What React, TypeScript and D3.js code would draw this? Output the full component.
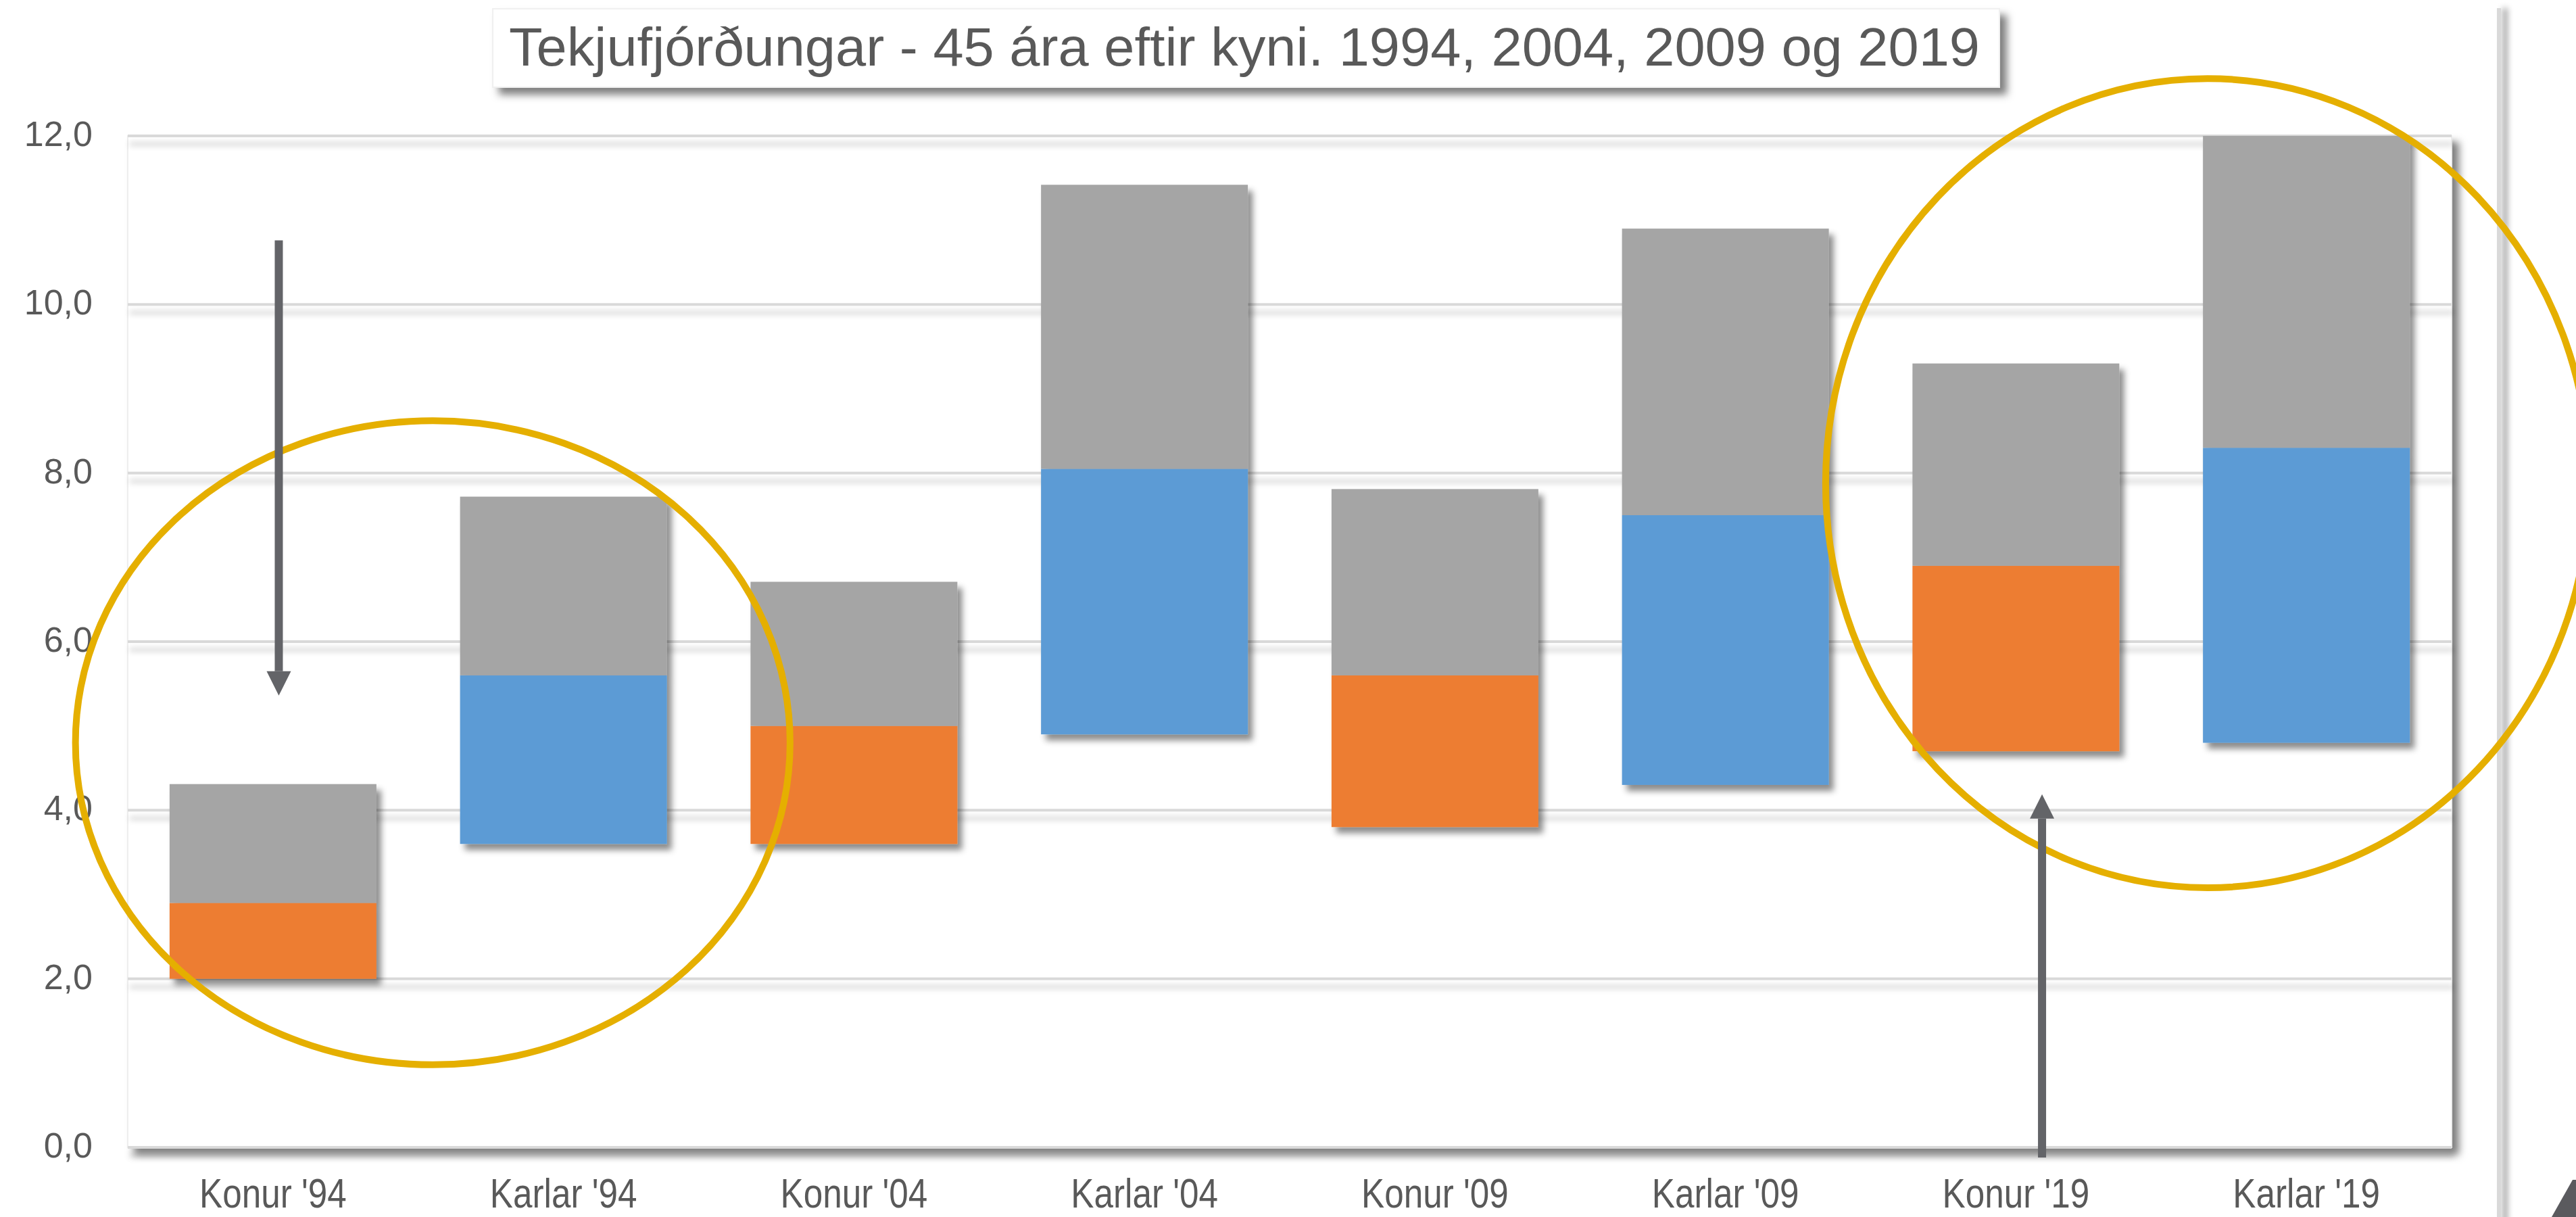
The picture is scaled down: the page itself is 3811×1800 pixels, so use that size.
import React from "react";
import * as d3 from "d3";

// Tekjufjórðungar: 1. fjórðungur (q1), miðgildi (median), 3. fjórðungur (q3)
const categories = ["Konur '94", "Karlar '94", "Konur '04", "Karlar '04", "Konur '09", "Karlar '09", "Konur '19", "Karlar '19"];
const q1 = [2.0, 3.6, 3.6, 4.9, 3.8, 4.3, 4.7, 4.8];
const median = [2.9, 5.6, 5.0, 8.05, 5.6, 7.5, 6.9, 8.3];
const q3 = [4.31, 7.72, 6.71, 11.42, 7.81, 10.9, 9.3, 12.0];
const yTicks = [0, 2, 4, 6, 8, 10, 12];
const title = "Tekjufjórðungar - 45 ára eftir kyni. 1994, 2004, 2009 og 2019";

// annotations, in category-index / value units
const ellipses = [
  { ci: 0.55, cv: 4.8, ri: 1.23, rv: 3.82 },
  { ci: 6.66, cv: 7.88, ri: 1.315, rv: 4.8 },
];
const arrows = [
  { ci: 0.02, from: 10.76, to: 5.36 },
  { ci: 6.09, from: -0.12, to: 4.19 },
];

const W = 3811;
const H = 1800;
const plot = { left: 189, right: 3627, top: 201, bottom: 1697 };

const ORANGE = "#ED7D31";
const BLUE = "#5B9BD5";
const GRAY = "#A5A5A5";
const TEXT = "#595959";
const GOLD = "#E5AF00";
const ARROW = "#636468";
const FONT = "'Liberation Sans', Arial, sans-serif";

const isKonur = (c: string) => c.startsWith("Konur");
const fmt = (v: number) => v.toFixed(1).replace(".", ",");

export default function App() {
  const x = d3
    .scaleBand<string>()
    .domain(categories)
    .range([plot.left, plot.right])
    .paddingInner(0.288)
    .paddingOuter(0.144);
  const y = d3.scaleLinear().domain([0, 12]).range([plot.bottom, plot.top]);
  const idx = d3
    .scaleLinear()
    .domain([0, 1])
    .range([x(categories[0])! + x.bandwidth() / 2, x(categories[1])! + x.bandwidth() / 2]);
  const step = x.step();

  return (
    <svg
      width={W}
      height={H}
      style={{ position: "absolute", left: 0, top: 0, background: "#fff" }}
    >
      <defs>
        <filter id="barShadow" filterUnits="userSpaceOnUse" x={0} y={0} width={W} height={H}>
          <feDropShadow dx={7} dy={9} stdDeviation={5} floodColor="#000" floodOpacity={0.45} />
        </filter>
        <filter id="gridShadow" filterUnits="userSpaceOnUse" x={0} y={0} width={W} height={H}>
          <feDropShadow dx={3} dy={12} stdDeviation={4} floodColor="#000" floodOpacity={0.22} />
        </filter>
        <filter id="boxShadow" filterUnits="userSpaceOnUse" x={0} y={0} width={W} height={H}>
          <feDropShadow dx={10} dy={10} stdDeviation={6} floodColor="#000" floodOpacity={0.5} />
        </filter>
        <filter id="edgeShadow" filterUnits="userSpaceOnUse" x={0} y={0} width={W} height={H}>
          <feDropShadow dx={9} dy={0} stdDeviation={5} floodColor="#000" floodOpacity={0.45} />
        </filter>
      </defs>

      {/* right chart edge */}
      <rect x={3694} y={12} width={6} height={H} fill="#d9d9d9" filter="url(#edgeShadow)" />
      <polygon points="3806,1745 3811,1745 3811,1800 3775,1800" fill="#5a5a5e" />

      {/* plot area */}
      <rect
        x={plot.left}
        y={plot.top}
        width={plot.right - plot.left}
        height={plot.bottom - plot.top}
        fill="#fff"
        stroke="#eeeeee"
        strokeWidth={2}
        filter="url(#boxShadow)"
      />

      {/* gridlines */}
      <g filter="url(#gridShadow)">
        {yTicks.map((t) => (
          <rect key={t} x={plot.left} y={y(t) - 2} width={plot.right - plot.left} height={4} fill="#d9d9d9" />
        ))}
      </g>

      {/* y tick labels */}
      {yTicks.map((t) => (
        <text
          key={t}
          x={137}
          y={y(t) - 3}
          textAnchor="end"
          dominantBaseline="central"
          fontFamily={FONT}
          fontSize={52}
          fill={TEXT}
        >
          {fmt(t)}
        </text>
      ))}

      {/* stacked floating bars */}
      {categories.map((c, i) => {
        const x0 = x(c)!;
        return (
          <g key={c} filter="url(#barShadow)">
            <rect x={x0} y={y(median[i])} width={x.bandwidth()} height={y(q1[i]) - y(median[i])} fill={isKonur(c) ? ORANGE : BLUE} />
            <rect x={x0} y={y(q3[i])} width={x.bandwidth()} height={y(median[i]) - y(q3[i])} fill={GRAY} />
          </g>
        );
      })}

      {/* x labels */}
      {categories.map((c) => {
        const cx = x(c)! + x.bandwidth() / 2;
        return (
          <text
            key={c}
            transform={`translate(${cx},1786) scale(0.84,1)`}
            textAnchor="middle"
            fontFamily={FONT}
            fontSize={61}
            fill={TEXT}
          >
            {c}
          </text>
        );
      })}

      {/* ellipses */}
      {ellipses.map((e, i) => (
        <ellipse
          key={i}
          cx={idx(e.ci)}
          cy={y(e.cv)}
          rx={e.ri * step}
          ry={y(0) - y(e.rv)}
          fill="none"
          stroke={GOLD}
          strokeWidth={10}
        />
      ))}

      {/* arrows */}
      {arrows.map((a, i) => {
        const ax = idx(a.ci);
        const y1 = y(a.from);
        const y2 = y(a.to);
        const dir = y2 > y1 ? 1 : -1;
        const headLen = 36;
        const base = y2 - dir * headLen;
        return (
          <g key={i} fill={ARROW}>
            <line x1={ax} x2={ax} y1={y1} y2={base} stroke={ARROW} strokeWidth={12} />
            <polygon points={`${ax - 18},${base} ${ax + 18},${base} ${ax},${y2}`} />
          </g>
        );
      })}

      {/* title */}
      <rect x={729} y={13} width={2229} height={116} fill="#fff" stroke="#f0f0f0" strokeWidth={2} filter="url(#boxShadow)" />
      <text
        x={753}
        y={97}
        textLength={2176}
        lengthAdjust="spacingAndGlyphs"
        fontFamily={FONT}
        fontSize={80}
        fill={TEXT}
      >
        {title}
      </text>
    </svg>
  );
}
